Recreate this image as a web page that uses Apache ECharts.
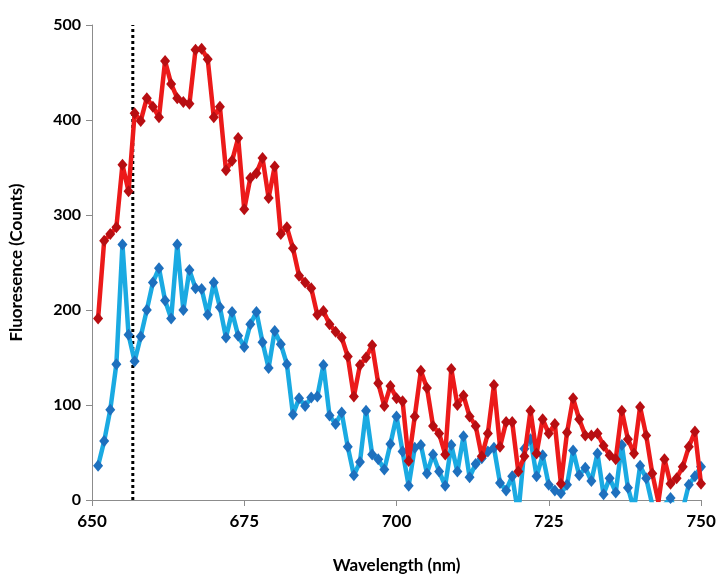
<!DOCTYPE html>
<html>
<head>
<meta charset="utf-8">
<script src="https://cdn.jsdelivr.net/npm/echarts@6/dist/echarts.min.js"></script>
<style>
html,body{margin:0;padding:0;background:#fff;}
#chart{width:720px;height:579px;}
</style>
</head>
<body>
<div id="chart"></div>
<script>
const wavelengths = [651,652,653,654,655,656,657,658,659,660,661,662,663,664,665,666,667,668,669,670,
671,672,673,674,675,676,677,678,679,680,681,682,683,684,685,686,687,688,689,690,
691,692,693,694,695,696,697,698,699,700,701,702,703,704,705,706,707,708,709,710,
711,712,713,714,715,716,717,718,719,720,721,722,723,724,725,726,727,728,729,730,
731,732,733,734,735,736,737,738,739,740,741,742,743,744,745,746,747,748,749,750];

const redCounts = [191,273,280,287,353,325,407,399,423,414,403,462,438,423,419,417,474,475,464,403,
414,347,357,381,306,339,344,360,318,351,280,287,265,236,229,223,195,199,185,177,
171,151,109,142,150,163,123,99,120,107,104,41,88,136,118,78,70,48,138,100,
110,88,78,46,70,121,56,82,82,30,46,94,49,85,70,80,17,71,107,85,
68,68,70,57,47,43,94,64,49,98,68,28,-2,43,17,23,35,56,72,17];

const blueCounts = [36,62,95,143,269,174,146,172,200,229,244,210,191,269,200,242,223,222,195,229,
203,171,198,173,161,185,198,166,139,178,164,143,90,107,99,108,109,142,89,80,
92,56,26,40,94,48,43,32,59,88,51,15,55,58,28,48,30,15,58,30,
67,24,38,44,51,55,18,10,25,-15,54,64,25,47,16,10,7,16,52,26,
34,20,49,6,23,8,58,13,-10,36,23,-5,-10,-5,2,-15,-10,16,25,35];

const xTicks = [650,675,700,725,750];
const yTicks = [0,100,200,300,400,500];
const markerWavelength = [656.7];
const markerSpan = [0,500];

const pairs = (xs, ys) => xs.map((x,i)=>[x, ys[i]]);

const chart = echarts.init(document.getElementById('chart'), null, {renderer:'canvas'});
const font = 'Lato, "Open Sans", sans-serif';
chart.setOption({
  animation:false,
  backgroundColor:'#fff',
  grid:{left:92,right:19,top:25,bottom:70,containLabel:false},
  xAxis:{
    type:'value', min:xTicks[0], max:xTicks[xTicks.length-1], interval:25,
    name:'Wavelength (nm)', nameLocation:'middle', nameGap:57,
    nameTextStyle:{fontFamily:font,fontWeight:'bold',fontSize:17,color:'#000'},
    axisLine:{show:true,lineStyle:{color:'#8c8c8c',width:1}},
    axisTick:{show:true,length:6,lineStyle:{color:'#8c8c8c'}},
    axisLabel:{fontFamily:font,fontWeight:'bold',fontSize:17,color:'#000',margin:13},
    splitLine:{show:false}
  },
  yAxis:{
    type:'value', min:yTicks[0], max:yTicks[yTicks.length-1], interval:100,
    name:'Fluoresence (Counts)', nameLocation:'middle', nameGap:67, nameRotate:90,
    nameTextStyle:{fontFamily:font,fontWeight:'bold',fontSize:17,color:'#000'},
    axisLine:{show:true,lineStyle:{color:'#8c8c8c',width:1}},
    axisTick:{show:true,length:6,lineStyle:{color:'#8c8c8c'}},
    axisLabel:{fontFamily:font,fontWeight:'bold',fontSize:16,color:'#000',margin:11},
    splitLine:{show:false}
  },
  series:[
    {
      type:'line', data:pairs(markerWavelength.concat(markerWavelength), markerSpan),
      symbol:'none', lineStyle:{color:'#000',width:3,type:[3,3]}, z:1
    },
    {
      type:'line', data:pairs(wavelengths, blueCounts), clip:true,
      symbol:'diamond', symbolSize:[10,12],
      lineStyle:{color:'#1AAAE2',width:4.5},
      itemStyle:{color:'#1E70BE'}, z:2
    },
    {
      type:'line', data:pairs(wavelengths, redCounts), clip:true,
      symbol:'diamond', symbolSize:[10,12],
      lineStyle:{color:'#EC1A1A',width:4.5},
      itemStyle:{color:'#B80E12'}, z:3
    }
  ]
});
</script>
</body>
</html>
